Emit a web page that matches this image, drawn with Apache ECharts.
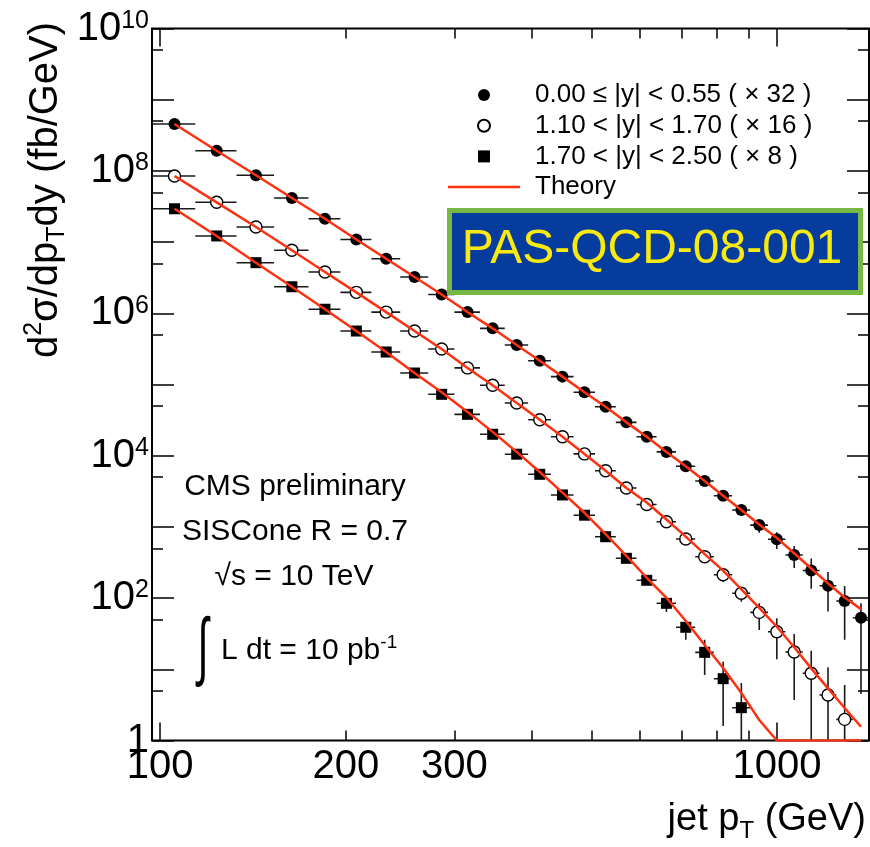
<!DOCTYPE html>
<html>
<head>
<meta charset="utf-8">
<script src="https://cdn.jsdelivr.net/npm/echarts@6/dist/echarts.min.js"></script>
<style>
  html, body { margin: 0; padding: 0; background: #fff; }
  #chart { width: 870px; height: 847px; }
</style>
</head>
<body>
<div id="chart"></div>
<script>
// Jet pT bin edges (GeV) and bin centres
const ptEdges = [97, 114, 133, 153, 174, 196, 220, 245, 272, 300, 330, 362, 395, 430, 468, 507,
  548, 592, 638, 686, 737, 790, 846, 905, 967, 1032, 1101, 1172, 1248, 1327, 1410];
const ptCenters = [105.5, 123.5, 143, 163.5, 185, 208, 232.5, 258.5, 286, 315, 346, 378.5, 412.5,
  449, 487.5, 527.5, 570, 615, 662, 711.5, 763.5, 818, 875.5, 936, 999.5, 1066.5, 1136.5, 1210,
  1287.5, 1368.5];

// 0.00 <= |y| < 0.55 (x 32), fb/GeV
const xsCentral = [4.56e8, 1.92e8, 8.67e7, 4.16e7, 2.13e7, 1.09e7, 5.84e6, 3.24e6, 1.84e6, 1.04e6,
  6.15e5, 3.59e5, 2.16e5, 1.29e5, 7.77e4, 4.88e4, 2.94e4, 1.85e4, 1.13e4, 7.10e3, 4.41e3, 2.74e3,
  1.73e3, 1.06e3, 670, 403, 244, 149, 91, 53];
const errLoCentral = [null, null, null, null, null, null, null, null, null, null, null, null, null,
  null, null, null, null, null, null, null, null, null, 1520, 830, 490, 265, 135, 65, 26, 4.5];
const errHiCentral = [null, null, null, null, null, null, null, null, null, null, null, null, null,
  null, null, null, null, null, null, null, null, null, 1970, 1250, 840, 540, 360, 232, 148, 85];
const thCentral = [4.56e8, 1.92e8, 8.67e7, 4.16e7, 2.13e7, 1.09e7, 5.84e6, 3.24e6, 1.84e6, 1.04e6,
  6.15e5, 3.59e5, 2.16e5, 1.29e5, 7.77e4, 4.88e4, 2.94e4, 1.85e4, 1.13e4, 7.10e3, 4.41e3, 2.74e3,
  1.73e3, 1.08e3, 700, 426, 260, 161, 102, 70];

// 1.10 < |y| < 1.70 (x 16)
const xsMid = [8.48e7, 3.62e7, 1.63e7, 7.67e6, 3.80e6, 1.97e6, 1.04e6, 5.64e5, 3.15e5, 1.71e5,
  9.75e4, 5.50e4, 3.20e4, 1.85e4, 1.06e4, 6.15e3, 3.52e3, 2.06e3, 1.18e3, 676, 381, 213, 117, 63,
  33.7, 17.5, 8.8, 4.36, 1.98];
const errLoMid = [null, null, null, null, null, null, null, null, null, null, null, null, null, null,
  null, null, null, null, null, null, 345, 168, 89, 35.6, 13.8, 3.7, 1, 1, 1];
const errHiMid = [null, null, null, null, null, null, null, null, null, null, null, null, null, null,
  null, null, null, null, null, null, 420, 265, 137, 84.6, 52, 31.3, 18.2, 10.7, 6.0];
const thMid = [8.48e7, 3.62e7, 1.63e7, 7.67e6, 3.80e6, 1.97e6, 1.04e6, 5.64e5, 3.15e5, 1.71e5,
  9.75e4, 5.50e4, 3.20e4, 1.85e4, 1.06e4, 6.15e3, 3.52e3, 2.20e3, 1.27e3, 730, 415, 243, 133, 73,
  39.6, 20.4, 10.3, 5.4, 2.86, 1.56];

// 1.70 < |y| < 2.50 (x 8)
const xsFwd = [2.94e7, 1.22e7, 5.14e6, 2.36e6, 1.14e6, 5.64e5, 2.86e5, 1.45e5, 7.28e4, 3.81e4,
  2.00e4, 1.05e4, 5.48e3, 2.81e3, 1.46e3, 728, 362, 178, 84.5, 38.9, 17.3, 7.38, 2.89];
const errLoFwd = [null, null, null, null, null, null, null, null, null, null, null, null, null, null,
  null, null, null, 160, 64, 26, 8.3, 1.6, 1];
const errHiFwd = [null, null, null, null, null, null, null, null, null, null, null, null, null, null,
  null, null, null, 197, 104, 48, 26, 12.8, 6.4];
const thFwd = [2.94e7, 1.22e7, 5.14e6, 2.36e6, 1.14e6, 5.64e5, 2.86e5, 1.45e5, 7.8e4, 4.1e4,
  2.16e4, 1.13e4, 5.9e3, 3.03e3, 1.58e3, 790, 392, 193, 101, 47.7, 21.9, 10.4, 4.66, 1.94,
  1, 1, 1, 1, 1, 1];

// Axis ticks and labels
const xTicksMajor = [100, 1000];
const xTicksMinor = [200, 300, 400, 500, 600, 700, 800, 900];
const xLabels = [100, 200, 300, 1000];
const yTicksMajor = [1, 10, 1e2, 1e3, 1e4, 1e5, 1e6, 1e7, 1e8, 1e9, 1e10];
const yTicksMinor = [5, 50, 5e2, 5e3, 5e4, 5e5, 5e6, 5e7, 5e8, 5e9];
const yLabels = [1, 1e2, 1e4, 1e6, 1e8, 1e10];

const legendNames = ['0.00 \u2264 |y| < 0.55 ( \u00d7 32 )', '1.10 < |y| < 1.70 ( \u00d7 16 )',
  '1.70 < |y| < 2.50 ( \u00d7 8 )', 'Theory'];

const FONT = "'Liberation Sans', Arial, Helvetica, sans-serif";
const RED = '#ff3010';
const SQUARE = 'path://M0,0L10,0L10,10L0,10Z';

function points(vals) {
  return vals.map((v, i) => [ptCenters[i], v]);
}
function bars(vals, lo, hi) {
  return vals.map((v, i) => [ptCenters[i], v, ptEdges[i], ptEdges[i + 1],
    lo[i] == null ? v : lo[i], hi[i] == null ? v : hi[i]]);
}

function renderErrorBar(params, api) {
  const x = api.value(0), y = api.value(1);
  const l = api.coord([api.value(2), y]);
  const r = api.coord([api.value(3), y]);
  const b = api.coord([x, api.value(4)]);
  const t = api.coord([x, api.value(5)]);
  const st = { stroke: '#1a1a1a', lineWidth: 1.6 };
  return {
    type: 'group',
    children: [
      { type: 'line', shape: { x1: l[0], y1: l[1], x2: r[0], y2: r[1] }, style: st },
      { type: 'line', shape: { x1: b[0], y1: b[1], x2: t[0], y2: t[1] }, style: st }
    ]
  };
}

function xAxisDef(position, ticks, len, labels) {
  return {
    type: 'log', logBase: 10, min: 97, max: 1410, position: position,
    axisLine: { show: false }, splitLine: { show: false },
    axisTick: { show: true, inside: true, length: len, customValues: ticks,
      lineStyle: { color: '#000', width: 1.5 } },
    axisLabel: labels ? {
      show: true, customValues: labels, margin: 6, color: '#000',
      fontFamily: FONT, fontSize: 40,
      formatter: function (v) { return String(Math.round(v)); }
    } : { show: false }
  };
}
function yAxisDef(position, ticks, len, labels) {
  return {
    type: 'log', logBase: 10, min: 1, max: 1e10, position: position,
    axisLine: { show: false }, splitLine: { show: false },
    axisTick: { show: true, inside: true, length: len, customValues: ticks,
      lineStyle: { color: '#000', width: 1.5 } },
    axisLabel: labels ? {
      show: true, customValues: labels, margin: 3, color: '#000',
      formatter: function (v) {
        const e = Math.round(Math.log10(v));
        return e === 0 ? '{b|1}' : '{b|10}{s|' + e + '}';
      },
      rich: {
        b: { fontFamily: FONT, fontSize: 40, lineHeight: 40, color: '#000' },
        s: { fontFamily: FONT, fontSize: 25, lineHeight: 25, verticalAlign: 'top', color: '#000' }
      }
    } : { show: false }
  };
}

const chart = echarts.init(document.getElementById('chart'), null, { renderer: 'canvas' });

chart.setOption({
  animation: false,
  backgroundColor: '#fff',
  grid: { left: 152, top: 28.5, width: 717, height: 712, show: true,
    borderColor: '#000', borderWidth: 2, backgroundColor: 'transparent' },
  xAxis: [
    xAxisDef('bottom', xTicksMajor, 18, xLabels),
    xAxisDef('bottom', xTicksMinor, 10, null),
    xAxisDef('top', xTicksMajor, 18, null),
    xAxisDef('top', xTicksMinor, 10, null)
  ],
  yAxis: [
    yAxisDef('left', yTicksMajor, 22, yLabels),
    yAxisDef('left', yTicksMinor, 11, null),
    yAxisDef('right', yTicksMajor, 22, null),
    yAxisDef('right', yTicksMinor, 11, null)
  ],
  legend: {
    data: [
      { name: legendNames[0], icon: 'circle' },
      { name: legendNames[1], icon: 'circle' },
      { name: legendNames[2], icon: SQUARE },
      { name: legendNames[3], icon: 'path://M0,0L72,0L72,2.5L0,2.5Z',
        itemStyle: { color: RED, borderWidth: 0 } }
    ],
    orient: 'vertical', left: 448, top: 82, padding: 0,
    itemWidth: 72, itemHeight: 12, itemGap: 4.7,
    textStyle: { fontFamily: FONT, fontSize: 26, lineHeight: 25, color: '#000',
      padding: [0, 0, 0, 10] }
  },
  series: [
    { name: 'err-central', type: 'custom', renderItem: renderErrorBar, clip: true, z: 2,
      encode: { x: 0, y: 1 }, data: bars(xsCentral, errLoCentral, errHiCentral) },
    { name: 'err-mid', type: 'custom', renderItem: renderErrorBar, clip: true, z: 2,
      encode: { x: 0, y: 1 }, data: bars(xsMid, errLoMid, errHiMid) },
    { name: 'err-fwd', type: 'custom', renderItem: renderErrorBar, clip: true, z: 2,
      encode: { x: 0, y: 1 }, data: bars(xsFwd, errLoFwd, errHiFwd) },

    { name: legendNames[0], type: 'scatter', symbol: 'circle', symbolSize: 12, z: 3,
      itemStyle: { color: '#000', opacity: 1 }, data: points(xsCentral) },
    { name: legendNames[1], type: 'scatter', symbol: 'circle', symbolSize: 12, z: 3,
      itemStyle: { color: '#fff', borderColor: '#000', borderWidth: 1.4, opacity: 1 },
      data: points(xsMid) },
    { name: legendNames[2], type: 'scatter', symbol: SQUARE, symbolSize: 11, z: 3,
      itemStyle: { color: '#000', opacity: 1 }, data: points(xsFwd) },

    { name: 'Theory', type: 'line', symbol: 'none', z: 4, clip: true,
      lineStyle: { color: RED, width: 2.5 }, itemStyle: { color: RED },
      data: points(thCentral) },
    { name: 'Theory', type: 'line', symbol: 'none', z: 4, clip: true,
      lineStyle: { color: RED, width: 2.5 }, itemStyle: { color: RED },
      data: points(thMid) },
    { name: 'Theory', type: 'line', symbol: 'none', z: 4, clip: true,
      lineStyle: { color: RED, width: 2.5 }, itemStyle: { color: RED },
      data: points(thFwd) }
  ],
  graphic: [
    // document tag
    { type: 'rect', left: 447, top: 208, z: 10,
      shape: { width: 411, height: 82 },
      style: { fill: '#063c9e', stroke: '#76b843', lineWidth: 5 } },
    { type: 'text', x: 652, y: 250, z: 11,
      style: { text: 'PAS-QCD-08-001', fill: '#f8ea10', font: '48px ' + FONT,
        align: 'center', verticalAlign: 'middle' } },

    // conditions
    { type: 'text', x: 295, y: 487, z: 10,
      style: { text: 'CMS preliminary', fill: '#000', font: '30px ' + FONT,
        align: 'center', verticalAlign: 'middle' } },
    { type: 'text', x: 295, y: 532, z: 10,
      style: { text: 'SISCone R = 0.7', fill: '#000', font: '30px ' + FONT,
        align: 'center', verticalAlign: 'middle' } },
    { type: 'text', x: 294, y: 577, z: 10,
      style: { text: '\u221as = 10 TeV', fill: '#000', font: '30px ' + FONT,
        align: 'center', verticalAlign: 'middle' } },
    { type: 'text', x: 203, y: 650, scaleX: 0.8, scaleY: 1.5, z: 10,
      style: { text: '\u222b', fill: '#000', font: '50px ' + FONT,
        align: 'center', verticalAlign: 'middle' } },
    { type: 'text', x: 221, y: 651, z: 10,
      style: { text: '{a|L dt = 10 pb}{s|-1}', align: 'left', verticalAlign: 'middle',
        rich: {
          a: { fontFamily: FONT, fontSize: 30, lineHeight: 36, color: '#000' },
          s: { fontFamily: FONT, fontSize: 19, lineHeight: 19, verticalAlign: 'top', color: '#000' }
        } } },

    // axis titles
    { type: 'text', x: 866, y: 820, z: 10,
      style: { text: '{n|jet p}{t|T}{n| (GeV)}', align: 'right', verticalAlign: 'middle',
        rich: {
          n: { fontFamily: FONT, fontSize: 38, lineHeight: 46, color: '#000' },
          t: { fontFamily: FONT, fontSize: 24, lineHeight: 24, verticalAlign: 'bottom', color: '#000' }
        } } },
    { type: 'text', x: 46, y: 190, rotation: Math.PI / 2, z: 10,
      style: { text: '{n|d}{u|2}{n|\u03c3/dp}{t|T}{n|dy (fb/GeV)}', align: 'center',
        verticalAlign: 'middle',
        rich: {
          n: { fontFamily: FONT, fontSize: 40, lineHeight: 48, color: '#000' },
          u: { fontFamily: FONT, fontSize: 25, lineHeight: 25, verticalAlign: 'top', color: '#000' },
          t: { fontFamily: FONT, fontSize: 25, lineHeight: 25, verticalAlign: 'bottom', color: '#000' }
        } } }
  ]
});
</script>
</body>
</html>
